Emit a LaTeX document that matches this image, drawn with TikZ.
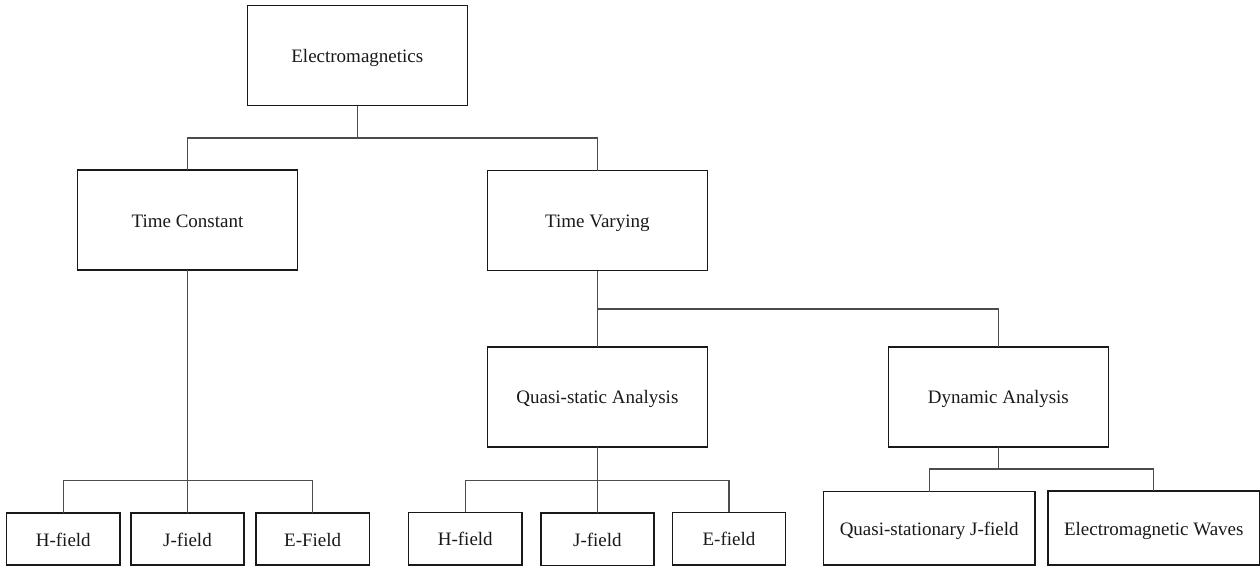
\documentclass[tikz,border=0pt]{standalone}
\usepackage{fontspec}
\setmainfont{Liberation Serif}
\begin{document}
\begin{tikzpicture}[x=1pt,y=-1pt,
  box/.style={draw=black!90, line width=1.6pt, fill=white, inner sep=0pt, outer sep=0pt,
    font=\fontsize{19}{22}\selectfont, text=black!90, text height=16pt, text depth=2pt},
  big/.style={box, minimum width=220pt, minimum height=100pt},
  leaf/.style={box, minimum width=113.3pt, minimum height=52.5pt},
  wide/.style={box, minimum width=211.3pt, minimum height=73.5pt},
  conn/.style={draw=black!70, line width=1.2pt}]
\useasboundingbox (0,0) rectangle (1260,566);
% nodes
\node[big] (em) at (357.3,55.5) {Electromagnetics};
\node[big] (tc) at (187.5,220) {Time Constant};
\node[big] (tv) at (597.4,220.5) {Time Varying};
\node[big] (qs) at (597.4,396.7) {Quasi-static Analysis};
\node[big] (da) at (998.4,396.7) {Dynamic Analysis};
\node[leaf] (h1) at (63.3,539) {H-field};
\node[leaf] (j1) at (187.5,539) {J-field};
\node[leaf] (e1) at (312.7,539) {E-Field};
\node[leaf] (h2) at (465.3,538.7) {H-field};
\node[leaf] (j2) at (597.4,539.3) {J-field};
\node[leaf] (e2) at (729,538.7) {E-field};
\node[wide] (qsj) at (929.2,528.3) {Quasi-stationary J-field};
\node[wide] (emw) at (1153.8,528) {Electromagnetic Waves};
% branch points
\coordinate (b0) at (357.3,138);
\coordinate (b1) at (187.5,480.3);
\coordinate (b2) at (597.4,309);
\coordinate (b3) at (597.4,480.3);
\coordinate (b4) at (998.4,469);
% connectors
\draw[conn] (em.south) -- (b0);
\draw[conn] (b0) -| (tc.north);
\draw[conn] (b0) -| (tv.north);
\draw[conn] (tc.south) -- (b1);
\draw[conn] (b1) -| (h1.north);
\draw[conn] (b1) -- (j1.north);
\draw[conn] (b1) -| (e1.north);
\draw[conn] (tv.south) -- (b2);
\draw[conn] (b2) -- (qs.north);
\draw[conn] (b2) -| (da.north);
\draw[conn] (qs.south) -- (b3);
\draw[conn] (b3) -| (h2.north);
\draw[conn] (b3) -- (j2.north);
\draw[conn] (b3) -| (e2.north);
\draw[conn] (da.south) -- (b4);
\draw[conn] (b4) -| (qsj.north);
\draw[conn] (b4) -| (emw.north);
\end{tikzpicture}
\end{document}
